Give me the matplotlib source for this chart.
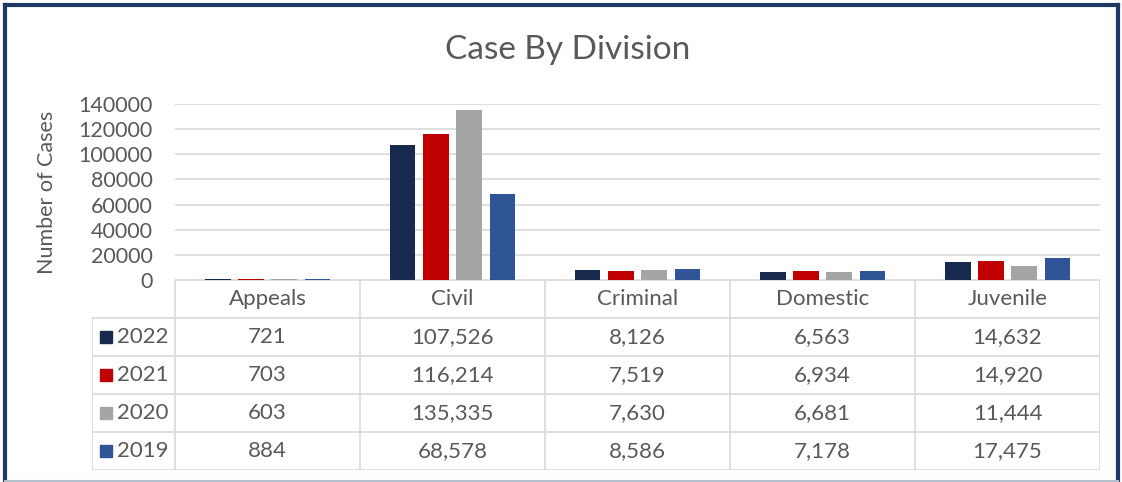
import numpy as np
import matplotlib.pyplot as plt

divisions = ['Appeals', 'Civil', 'Criminal', 'Domestic', 'Juvenile']
years = ['2022', '2021', '2020', '2019']
cases_2022 = [721, 107526, 8126, 6563, 14632]
cases_2021 = [703, 116214, 7519, 6934, 14920]
cases_2020 = [603, 135335, 7630, 6681, 11444]
cases_2019 = [884, 68578, 8586, 7178, 17475]
series = [cases_2022, cases_2021, cases_2020, cases_2019]
colors = ['#172a4e', '#c00000', '#a5a5a5', '#2f5597']
yticks = [0, 20000, 40000, 60000, 80000, 100000, 120000, 140000]

plt.rcParams['font.family'] = ['Lato', 'DejaVu Sans']
text_color = '#595959'
grid_color = '#d9d9d9'

W, H = 1122, 482
fig = plt.figure(figsize=(W / 100, H / 100), dpi=100)

# chart area in pixel terms
x0, x1 = 175, 1100
y_top, y_zero = 104, 280
ax = fig.add_axes([x0 / W, 1 - y_zero / H, (x1 - x0) / W, (y_zero - y_top) / H])

n = len(series)
width = 0.14
step = 0.18
x = np.arange(len(divisions))
for i, (vals, c) in enumerate(zip(series, colors)):
    ax.bar(x + (i - (n - 1) / 2) * step, vals, width, color=c, zorder=3)

ax.set_xlim(-0.5, len(divisions) - 0.5)
ax.set_ylim(0, 140000)
ax.set_yticks(yticks)
ax.set_yticklabels([str(v) for v in yticks], fontsize=15.5, color=text_color)
ax.tick_params(axis='y', length=0, pad=16)
ax.set_xticks([])
ax.grid(axis='y', color=grid_color, linewidth=1.2, zorder=0)
for s in ax.spines.values():
    s.set_visible(False)

fig.text(47 / W, 1 - 192 / H, 'Number of Cases', rotation=90, ha='center', va='center',
         fontsize=15.5, color=text_color)
fig.text(568 / W, 1 - 50 / H, 'Case By Division', ha='center', va='center',
         fontsize=24, color=text_color)

# data table below the chart
t_left, t_bottom = 92, 470
lab_w = (x0 - t_left) / ((x1 - x0) / len(divisions))
tax = fig.add_axes([t_left / W, 1 - t_bottom / H, (x1 - t_left) / W, (t_bottom - y_zero) / H])
tax.set_xlim(-0.5 - lab_w, len(divisions) - 0.5)
tax.set_ylim(len(years) + 1, 0)
tax.axis('off')

lw = 1.2
tax.plot([-0.5, len(divisions) - 0.5], [0, 0], color=grid_color, lw=lw)
for r in range(1, len(years) + 2):
    tax.plot([-0.5 - lab_w, len(divisions) - 0.5], [r, r], color=grid_color, lw=lw)
tax.plot([-0.5 - lab_w, -0.5 - lab_w], [1, len(years) + 1], color=grid_color, lw=lw)
for k in range(len(divisions) + 1):
    tax.plot([k - 0.5, k - 0.5], [0, len(years) + 1], color=grid_color, lw=lw)

fs = 16
for k, d in enumerate(divisions):
    tax.text(k, 0.5, d, ha='center', va='center', fontsize=fs, color=text_color)
for r, (yr, vals, c) in enumerate(zip(years, series, colors)):
    yy = r + 1.5
    tax.plot(-0.5 - lab_w + 0.076, yy, marker='s', markersize=8.5, color=c)
    tax.text(-0.5 - lab_w + 0.135, yy, yr, ha='left', va='center', fontsize=fs, color=text_color)
    for k, v in enumerate(vals):
        tax.text(k, yy, f'{v:,}', ha='center', va='center', fontsize=fs, color=text_color)

# outer frame
fig.add_artist(plt.Line2D([5 / W, 5 / W], [0, 1 - 5 / H], color='#1f3864', lw=3))
fig.add_artist(plt.Line2D([5 / W, 1118 / W], [1 - 5 / H, 1 - 5 / H], color='#1f3864', lw=3))
fig.add_artist(plt.Line2D([1118 / W, 1118 / W], [0, 1 - 5 / H], color='#1f3864', lw=3))
fig.add_artist(plt.Line2D([5 / W, 1118 / W], [1 / H, 1 / H], color='#b4bfcc', lw=1.5))

fig.savefig('out.png', dpi=100)
